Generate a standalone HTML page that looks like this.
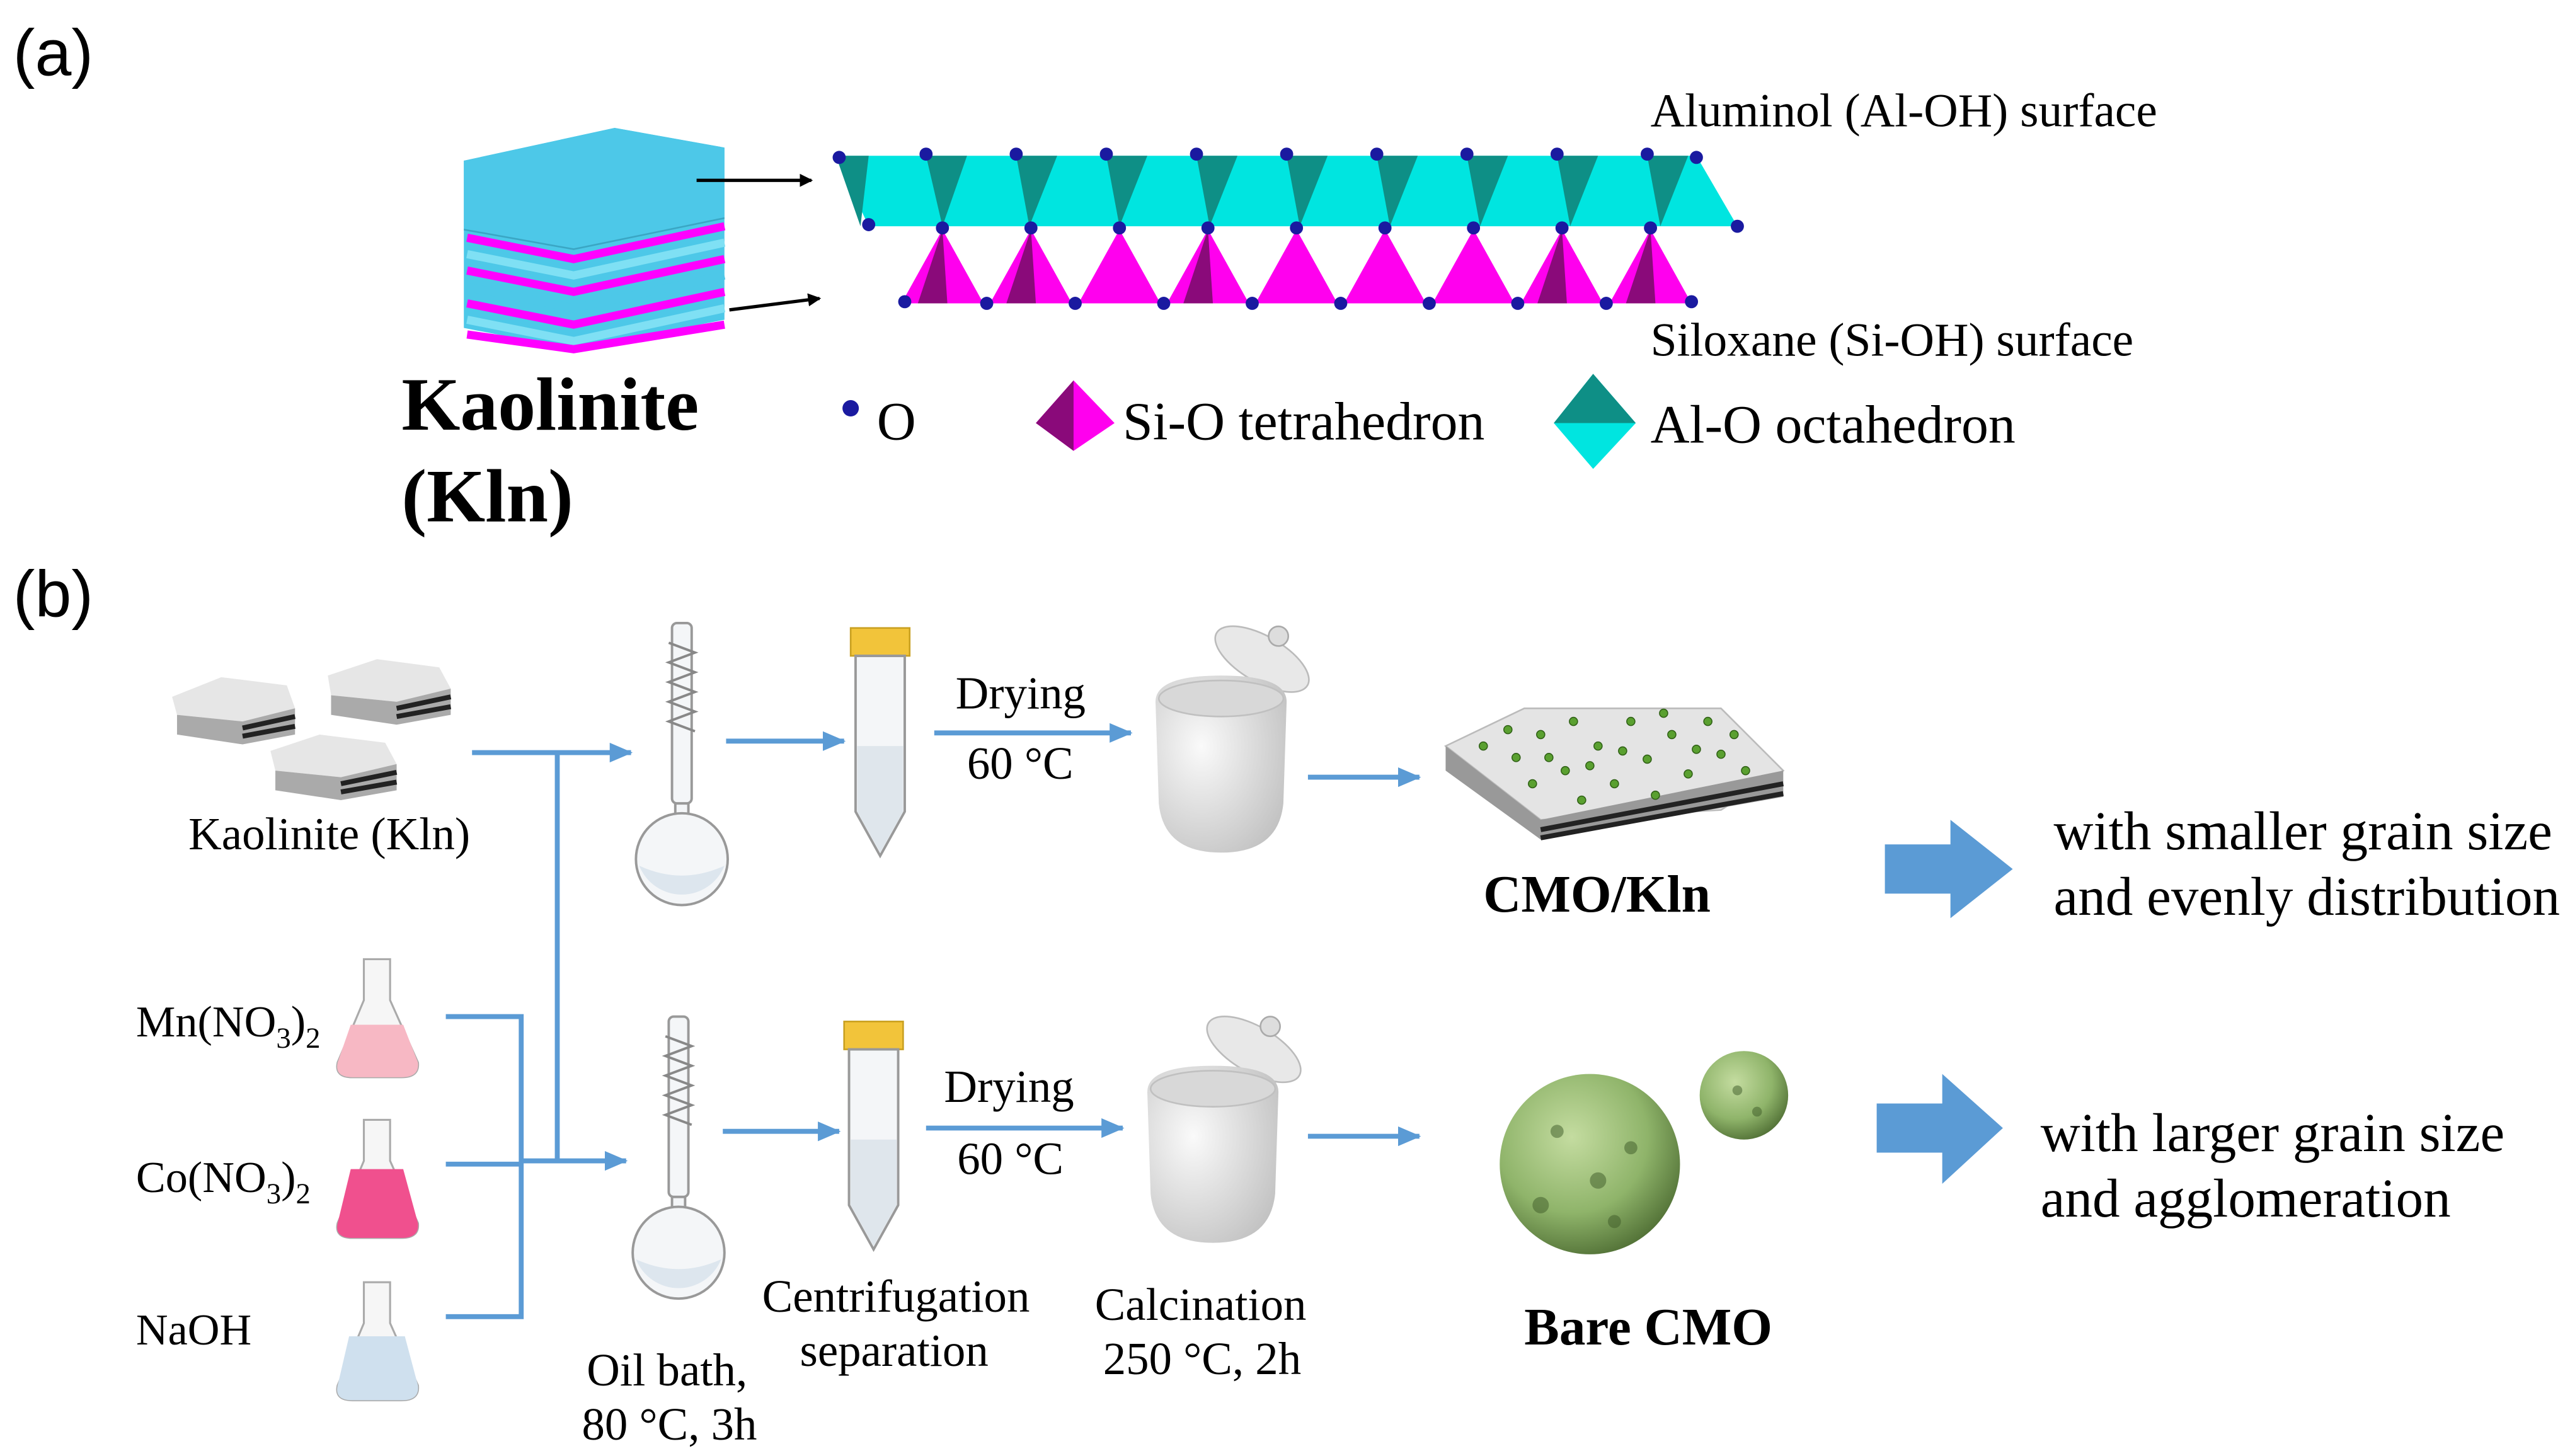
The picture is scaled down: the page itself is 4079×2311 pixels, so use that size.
<!DOCTYPE html>
<html><head><meta charset="utf-8"><style>html,body{margin:0;padding:0;background:#fff}svg{display:block}</style></head><body>
<svg width="4079" height="2311" viewBox="0 0 1568 888" preserveAspectRatio="none" xmlns="http://www.w3.org/2000/svg">
<defs>
<marker id="ab" markerWidth="8" markerHeight="8" refX="7" refY="4" orient="auto" markerUnits="userSpaceOnUse"><path d="M0,0 L8,4 L0,8z" fill="#000"/></marker>
<marker id="bl" markerWidth="14" markerHeight="12" refX="13" refY="6" orient="auto" markerUnits="userSpaceOnUse"><path d="M0,0 L14,6 L0,12z" fill="#5b9bd5"/></marker>
<radialGradient id="gs" cx="0.4" cy="0.35" r="0.7"><stop offset="0" stop-color="#c4dca0"/><stop offset="0.6" stop-color="#8fb46a"/><stop offset="1" stop-color="#4f6e34"/></radialGradient>
<radialGradient id="cr" cx="0.35" cy="0.4" r="0.8"><stop offset="0" stop-color="#fafafa"/><stop offset="1" stop-color="#bdbdbd"/></radialGradient>
</defs>
<g font-family="Liberation Sans, sans-serif" font-size="40" fill="#000">
<text x="8" y="46">(a)</text><text x="8" y="376">(b)</text></g>

<g>
<polygon points="283,98 375,78 442,90 442,195 350,213 283,200" fill="#4dc8e8"/>
<g stroke-width="5">
<path d="M285,145 L350,158 L442,138" stroke="#f0f" fill="none"/>
<path d="M285,155 L350,168 L442,148" stroke="#7fe0f4" fill="none"/>
<path d="M285,165 L350,178 L442,158" stroke="#f0f" fill="none"/>
<path d="M285,175 L350,188 L442,168" stroke="#4dc8e8" fill="none"/>
<path d="M285,185 L350,198 L442,178" stroke="#f0f" fill="none"/>
<path d="M285,195 L350,208 L442,188" stroke="#7fe0f4" fill="none"/>
<path d="M285,204 L350,213 L442,198" stroke="#f0f" fill="none"/>
</g>
<polygon points="283,98 375,78 442,90 442,133 350,152 283,140" fill="#4dc8e8"/>
<path d="M283,140 L350,152 L442,133" stroke="#3aa6c4" fill="none"/>
</g>
<line x1="425" y1="110" x2="495" y2="110" stroke="#000" stroke-width="2" marker-end="url(#ab)"/>
<line x1="445" y1="189" x2="500" y2="182" stroke="#000" stroke-width="2" marker-end="url(#ab)"/>

<polygon points="510,95 1035,95 1060,138 530,138" fill="#00e5e0"/>
<g fill="#0e8f86">
<polygon points="565,95 590,95 575,138"/><polygon points="620,95 645,95 628,138"/><polygon points="675,95 700,95 683,138"/><polygon points="730,95 755,95 738,138"/><polygon points="785,95 810,95 793,138"/><polygon points="840,95 865,95 848,138"/><polygon points="895,95 920,95 903,138"/><polygon points="950,95 975,95 958,138"/><polygon points="1005,95 1030,95 1013,138"/><polygon points="510,95 530,95 525,138"/>
</g>
<g fill="#ff00ee">
<polygon points="575,140 550,185 600,185"/><polygon points="629,140 604,185 654,185"/><polygon points="683,140 658,185 708,185"/><polygon points="737,140 712,185 762,185"/><polygon points="791,140 766,185 816,185"/><polygon points="845,140 820,185 870,185"/><polygon points="899,140 874,185 924,185"/><polygon points="953,140 928,185 978,185"/><polygon points="1007,140 982,185 1032,185"/>
</g>
<g fill="#8a0a7a">
<polygon points="575,140 560,185 578,185"/><polygon points="629,140 614,185 632,185"/><polygon points="737,140 722,185 740,185"/><polygon points="953,140 938,185 956,185"/><polygon points="1007,140 992,185 1010,185"/>
</g>
<g fill="#1a1aa0">
<circle cx="512" cy="96" r="4"/><circle cx="565" cy="94" r="4"/><circle cx="620" cy="94" r="4"/><circle cx="675" cy="94" r="4"/><circle cx="730" cy="94" r="4"/><circle cx="785" cy="94" r="4"/><circle cx="840" cy="94" r="4"/><circle cx="895" cy="94" r="4"/><circle cx="950" cy="94" r="4"/><circle cx="1005" cy="94" r="4"/><circle cx="1035" cy="96" r="4"/>
<circle cx="530" cy="137" r="4"/><circle cx="575" cy="139" r="4"/><circle cx="629" cy="139" r="4"/><circle cx="683" cy="139" r="4"/><circle cx="737" cy="139" r="4"/><circle cx="791" cy="139" r="4"/><circle cx="845" cy="139" r="4"/><circle cx="899" cy="139" r="4"/><circle cx="953" cy="139" r="4"/><circle cx="1007" cy="139" r="4"/><circle cx="1060" cy="138" r="4"/>
<circle cx="552" cy="184" r="4"/><circle cx="602" cy="185" r="4"/><circle cx="656" cy="185" r="4"/><circle cx="710" cy="185" r="4"/><circle cx="764" cy="185" r="4"/><circle cx="818" cy="185" r="4"/><circle cx="872" cy="185" r="4"/><circle cx="926" cy="185" r="4"/><circle cx="980" cy="185" r="4"/><circle cx="1032" cy="184" r="4"/>
<circle cx="519" cy="249" r="5"/>
</g>
<g font-family="Liberation Serif, serif" fill="#000">
<text x="1007" y="77" font-size="29">Aluminol (Al-OH) surface</text>
<text x="1007" y="217" font-size="29">Siloxane (Si-OH) surface</text>
<text x="245" y="262" font-size="46" font-weight="bold">Kaolinite</text>
<text x="245" y="318" font-size="46" font-weight="bold">(Kln)</text>
<text x="535" y="268" font-size="33">O</text>
<text x="685" y="268" font-size="33">Si-O tetrahedron</text>
<text x="1007" y="270" font-size="33">Al-O octahedron</text>
</g>
<polygon points="655,232 680,258 655,275 632,258" fill="#ff00ee"/><polygon points="655,232 655,275 632,258" fill="#8a0a7a"/>
<polygon points="972,228 998,258 972,286 948,258" fill="#00e5e0"/><polygon points="972,228 998,258 972,258 948,258" fill="#0e8f86"/>

<g>
<g><polygon points="105,425 135,413 175,418 180,432 148,440 108,436" fill="#e6e6e6"/><path d="M108,436 L148,440 L180,432 L180,448 L148,454 L108,448z" fill="#aaa"/><path d="M148,444 L180,437 M148,449 L180,443" stroke="#222" stroke-width="3"/></g>
<g><polygon points="200,412 230,402 268,407 275,420 242,428 202,424" fill="#e6e6e6"/><path d="M202,424 L242,428 L275,420 L275,436 L242,442 L202,436z" fill="#aaa"/><path d="M242,432 L275,425 M242,437 L275,431" stroke="#222" stroke-width="3"/></g>
<g><polygon points="165,458 195,448 235,453 242,466 208,474 168,470" fill="#e6e6e6"/><path d="M168,470 L208,474 L242,466 L242,482 L208,488 L168,482z" fill="#aaa"/><path d="M208,478 L242,471 M208,483 L242,477" stroke="#222" stroke-width="3"/></g>
</g>

<g stroke="#5b9bd5" stroke-width="3" fill="none">
<line x1="288" y1="459" x2="385" y2="459" marker-end="url(#bl)"/>
<line x1="340" y1="459" x2="340" y2="708"/>
<path d="M272,620 L318,620 L318,803 L272,803 M272,710 L318,710"/>
<line x1="318" y1="708" x2="382" y2="708" marker-end="url(#bl)"/>
<line x1="443" y1="452" x2="515" y2="452" marker-end="url(#bl)"/>
<line x1="441" y1="690" x2="512" y2="690" marker-end="url(#bl)"/>
<line x1="570" y1="447" x2="690" y2="447" marker-end="url(#bl)"/>
<line x1="565" y1="688" x2="685" y2="688" marker-end="url(#bl)"/>
<line x1="798" y1="474" x2="866" y2="474" marker-end="url(#bl)"/>
<line x1="798" y1="693" x2="866" y2="693" marker-end="url(#bl)"/>
</g>

<g id="rf" stroke="#999" stroke-width="1.5" fill="#f4f6f8">
<rect x="410" y="380" width="12" height="110" rx="3"/>
<path d="M408,392 l16,6 l-16,6 l16,6 l-16,6 l16,6 l-16,6 l16,6 l-16,6 l16,6" fill="none" stroke="#888"/>
<rect x="412" y="490" width="8" height="12"/>
<circle cx="416" cy="524" r="28"/>
<path d="M390,528 Q416,540 442,528 A28,28 0 0 1 390,528z" fill="#dde6ee" stroke="none"/>
</g>
<use href="#rf" transform="translate(-2,240)"/>

<g id="tb">
<rect x="519" y="383" width="36" height="17" fill="#f2c43a" stroke="#c9a020"/>
<path d="M522,400 L552,400 L552,495 L537,522 L522,495z" fill="#f4f6f8" stroke="#999" stroke-width="1.5"/>
<path d="M523,455 L551,455 L551,495 L537,520 L523,495z" fill="#dfe6ec"/>
</g>
<use href="#tb" transform="translate(-4,240)"/>

<g id="cb">
<ellipse cx="770" cy="402" rx="32" ry="14" transform="rotate(30 770 402)" fill="#e8e8e8" stroke="#bbb"/>
<circle cx="780" cy="388" r="6" fill="#ddd" stroke="#aaa"/>
<path d="M705,428 Q705,412 745,412 Q785,412 785,428 L783,490 Q780,520 745,520 Q710,520 707,490z" fill="url(#cr)"/>
<ellipse cx="745" cy="426" rx="38" ry="11" fill="#d8d8d8" stroke="#c0c0c0"/>
</g>
<use href="#cb" transform="translate(-5,238)"/>

<polygon points="882,455 930,432 1050,432 1088,470 1050,494 940,500" fill="#e4e4e4" stroke="#bbb"/>
<path d="M940,500 L1088,470 L1088,486 L940,512 L882,470 L882,455z" fill="#999"/>
<path d="M940,506 L1088,478 M940,511 L1088,484" stroke="#222" stroke-width="3"/>
<g fill="#5aa030" stroke="#2f6015" stroke-width="0.6">
<circle cx="905" cy="455" r="2.5"/><circle cx="925" cy="462" r="2.5"/><circle cx="940" cy="448" r="2.5"/><circle cx="955" cy="470" r="2.5"/><circle cx="960" cy="440" r="2.5"/><circle cx="975" cy="455" r="2.5"/><circle cx="985" cy="478" r="2.5"/><circle cx="995" cy="440" r="2.5"/><circle cx="1005" cy="463" r="2.5"/><circle cx="1020" cy="448" r="2.5"/><circle cx="1030" cy="472" r="2.5"/><circle cx="1042" cy="440" r="2.5"/><circle cx="1050" cy="460" r="2.5"/><circle cx="1065" cy="470" r="2.5"/><circle cx="935" cy="478" r="2.5"/><circle cx="965" cy="488" r="2.5"/><circle cx="1010" cy="485" r="2.5"/><circle cx="945" cy="462" r="2.5"/><circle cx="990" cy="458" r="2.5"/><circle cx="1035" cy="457" r="2.5"/><circle cx="970" cy="467" r="2.5"/><circle cx="1015" cy="435" r="2.5"/><circle cx="920" cy="445" r="2.5"/><circle cx="1058" cy="448" r="2.5"/>
</g>

<circle cx="970" cy="710" r="55" fill="url(#gs)"/>
<circle cx="1064" cy="668" r="27" fill="url(#gs)"/>
<g fill="#3d5a28" opacity="0.5"><circle cx="950" cy="690" r="4"/><circle cx="975" cy="720" r="5"/><circle cx="995" cy="700" r="4"/><circle cx="940" cy="735" r="5"/><circle cx="985" cy="745" r="4"/><circle cx="1060" cy="665" r="3"/><circle cx="1072" cy="678" r="3"/></g>

<polygon points="1150,515 1190,515 1190,500 1228,530 1190,560 1190,545 1150,545" fill="#5b9bd5"/>
<polygon points="1145,673 1185,673 1185,655 1222,688 1185,722 1185,703 1145,703" fill="#5b9bd5"/>

<g stroke="#aaa" stroke-width="1.2">
<path d="M222,585 L238,585 L238,610 L255,648 Q256,657 245,657 L215,657 Q204,657 206,648 L222,610z" fill="#f6f6f6"/>
<path d="M214,625 L246,625 L255,648 Q256,657 245,657 L215,657 Q204,657 206,648z" fill="#f7b8c4" stroke="none"/>
<path d="M222,683 L238,683 L238,708 L255,746 Q256,755 245,755 L215,755 Q204,755 206,746 L222,708z" fill="#f6f6f6"/>
<path d="M214,713 L246,713 L255,746 Q256,755 245,755 L215,755 Q204,755 206,746z" fill="#f0508e" stroke="none"/>
<path d="M222,782 L238,782 L238,807 L255,845 Q256,854 245,854 L215,854 Q204,854 206,845 L222,807z" fill="#f6f6f6"/>
<path d="M213,815 L247,815 L255,845 Q256,854 245,854 L215,854 Q204,854 206,845z" fill="#cfe0ee" stroke="none"/>
</g>

<g font-family="Liberation Serif, serif" font-size="28" fill="#000">
<text x="115" y="518">Kaolinite (Kln)</text>
<text x="83" y="632" font-size="27">Mn(NO<tspan font-size="18" dy="7">3</tspan><tspan dy="-7">)</tspan><tspan font-size="18" dy="7">2</tspan></text>
<text x="83" y="727" font-size="27">Co(NO<tspan font-size="18" dy="7">3</tspan><tspan dy="-7">)</tspan><tspan font-size="18" dy="7">2</tspan></text>
<text x="83" y="820" font-size="27">NaOH</text>
<text x="358" y="845">Oil bath,</text>
<text x="355" y="878">80 °C, 3h</text>
<text x="465" y="800">Centrifugation</text>
<text x="488" y="833">separation</text>
<text x="668" y="805">Calcination</text>
<text x="673" y="838">250 °C, 2h</text>
<text x="583" y="432">Drying</text>
<text x="590" y="475">60 °C</text>
<text x="576" y="672">Drying</text>
<text x="584" y="716">60 °C</text>
<text x="905" y="556" font-size="32" font-weight="bold">CMO/Kln</text>
<text x="930" y="820" font-size="32" font-weight="bold">Bare CMO</text>
<text x="1253" y="518" font-size="33.5">with smaller grain size</text>
<text x="1253" y="558" font-size="33.5">and evenly distribution</text>
<text x="1245" y="702" font-size="33.5">with larger grain size</text>
<text x="1245" y="742" font-size="33.5">and agglomeration</text>
</g>
</svg>
</body></html>
